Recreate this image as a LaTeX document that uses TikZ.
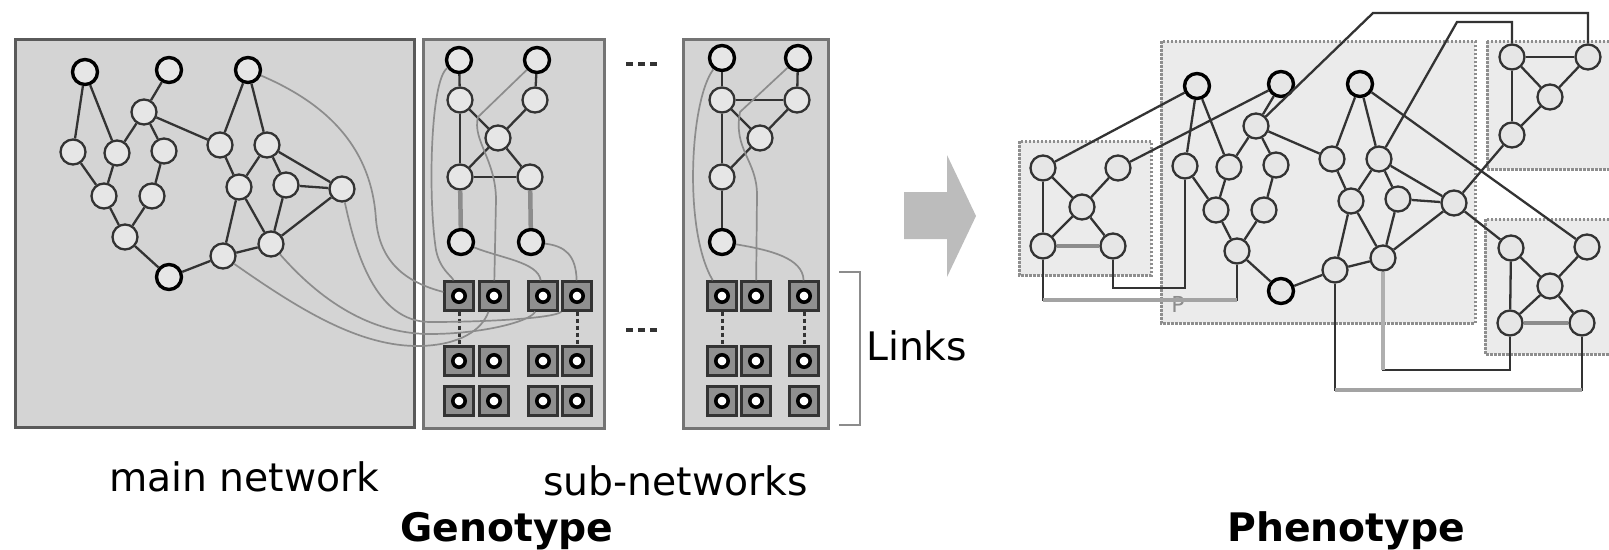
\documentclass[tikz,border=0pt]{standalone}
\usepackage{fontspec}
\setmainfont{DejaVu Sans}
\definecolor{boxg}{HTML}{D4D4D4}
\definecolor{boxp}{HTML}{EBEBEB}
\definecolor{nodef}{HTML}{E6E6E6}
\definecolor{edgec}{HTML}{333333}
\definecolor{linkc}{HTML}{8C8C8C}
\definecolor{frameg}{HTML}{5A5A5A}
\definecolor{frames}{HTML}{747474}
\definecolor{dashc}{HTML}{8E8E8E}
\definecolor{sqfill}{HTML}{8F8F8F}
\definecolor{arrowc}{HTML}{BCBCBC}
\tikzset{
  nd/.style={circle, draw=edgec, fill=nodef, line width=2.3pt, minimum size=25pt, inner sep=0pt},
  bnd/.style={nd, draw=black, line width=3.4pt},
  ed/.style={draw=edgec, line width=2.3pt},
  thk/.style={draw=linkc, line width=4.5pt},
  lnk/.style={draw=linkc, line width=1.7pt},
  sq/.style={rectangle, draw=edgec, fill=sqfill, line width=2.4pt, minimum size=29pt, inner sep=0pt},
  dsh/.style={draw=edgec, line width=3pt, dash pattern=on 4pt off 3pt},
  gbox/.style={fill=boxg, draw=frames, line width=3pt},
  pbox/.style={fill=boxp, draw=dashc, line width=3pt, dash pattern=on 2.5pt off 1.5pt},
  lbl/.style={inner sep=0pt, font=\fontsize{39.3}{45}\selectfont},
  lblb/.style={inner sep=0pt, font=\fontsize{39.3}{45}\selectfont\bfseries},
  wire/.style={draw=edgec, line width=2.3pt},
  gwire/.style={draw=linkc!80, line width=4pt},
}
% regulatory network: nodes named with a prefix, then its edges
\newcommand\drawnet[1]{%
  \node[bnd] (#1T1) at (85,72) {};
  \node[bnd] (#1T2) at (169,70) {};
  \node[bnd] (#1T3) at (248,70) {};
  \node[nd] (#1A) at (144,112) {};
  \node[nd] (#1B) at (73,152) {};
  \node[nd] (#1C) at (117,153) {};
  \node[nd] (#1D) at (164,151) {};
  \node[nd] (#1E) at (104,196) {};
  \node[nd] (#1F) at (152,196) {};
  \node[nd] (#1G) at (125,237) {};
  \node[bnd] (#1H) at (169,277) {};
  \node[nd] (#1I) at (220,145) {};
  \node[nd] (#1J) at (267,145) {};
  \node[nd] (#1K) at (239,187) {};
  \node[nd] (#1L) at (286,185) {};
  \node[nd] (#1M) at (342,189) {};
  \node[nd] (#1N) at (271,244) {};
  \node[nd] (#1O) at (223,256) {};
  \foreach \a/\b in {T1/B,T1/C,T2/A,A/C,A/D,A/I,B/E,C/E,D/F,E/G,F/G,G/H,H/O,O/N,O/K,T3/I,T3/J,I/K,J/K,J/L,J/M,K/N,L/M,L/N,M/N}
    \draw[ed] (#1\a) -- (#1\b);
}
% link gene: square with a ring inside
\newcommand\lsq[3]{%
  \node[sq] (#1) at (#2,#3) {};
  \fill[white] (#1) circle (6pt);
  \draw[black, line width=3.6pt] (#1) circle (6.2pt);
}
\begin{document}
\begin{tikzpicture}[x=1pt,y=-1pt]
\useasboundingbox (0,0) rectangle (1609,549);
\clip (0,0) rectangle (1609,549);

% ---------------- genotype ----------------
\draw[gbox, draw=frameg] (15,39) rectangle (414,427);
\draw[gbox] (423,39) rectangle (604,428);
\draw[gbox] (683,39) rectangle (828,428);

\drawnet{g}

% first sub-network
\node[bnd] (gP1) at (459,60) {};
\node[bnd] (gP2) at (537,60) {};
\node[nd] (gQ1) at (460,100) {};
\node[nd] (gQ2) at (535,100) {};
\node[nd] (gR) at (498,138) {};
\node[nd] (gS1) at (460,177) {};
\node[nd] (gS2) at (530,177) {};
\node[bnd] (gU1) at (461,242) {};
\node[bnd] (gU2) at (531,242) {};
\foreach \a/\b in {P1/Q1,P2/Q2,Q1/S1,Q1/R,Q2/R,R/S1,R/S2,S1/S2}
  \draw[ed] (g\a) -- (g\b);
\draw[thk] (gS1) -- (gU1);
\draw[thk] (gS2) -- (gU2);

\lsq{sq1a}{459}{296} \lsq{sq1b}{494}{296} \lsq{sq1c}{543}{296} \lsq{sq1d}{577}{296}
\lsq{sq1a2}{459}{361} \lsq{sq1b2}{494}{361} \lsq{sq1c2}{543}{361} \lsq{sq1d2}{577}{361}
\lsq{sq1a3}{459}{401} \lsq{sq1b3}{494}{401} \lsq{sq1c3}{543}{401} \lsq{sq1d3}{577}{401}
\draw[dsh] (sq1a) -- (sq1a2);
\draw[dsh] (sq1d) -- (sq1d2);

% second sub-network
\node[bnd] (gV1) at (722,58) {};
\node[bnd] (gV2) at (798,58) {};
\node[nd] (gW1) at (722,100) {};
\node[nd] (gW2) at (797,100) {};
\node[nd] (gX) at (760,138) {};
\node[nd] (gY) at (722,177) {};
\node[bnd] (gZ) at (722,242) {};
\foreach \a/\b in {V1/W1,V2/W2,W1/W2,W1/X,W2/X,W1/Y,X/Y,Y/Z}
  \draw[ed] (g\a) -- (g\b);

\lsq{sq2a}{722}{296} \lsq{sq2b}{756}{296} \lsq{sq2c}{804}{296}
\lsq{sq2a2}{722}{361} \lsq{sq2b2}{756}{361} \lsq{sq2c2}{804}{361}
\lsq{sq2a3}{722}{401} \lsq{sq2b3}{756}{401} \lsq{sq2c3}{804}{401}
\draw[dsh] (sq2a) -- (sq2a2);
\draw[dsh] (sq2c) -- (sq2c2);

% links from the networks to the link genes
\draw[lnk] (gT3) .. controls (330,105) and (372,150) .. (376,220) .. controls (380,262) and (405,282) .. (sq1a);
\draw[lnk] (gM) .. controls (355,250) and (375,322) .. (430,322) .. controls (490,322) and (555,318) .. (sq1d);
\draw[lnk] (gN) .. controls (320,300) and (370,334) .. (430,334) .. controls (480,334) and (530,322) .. (sq1c);
\draw[lnk] (gO) .. controls (300,310) and (360,347) .. (420,346) .. controls (460,345) and (482,330) .. (sq1b);
\draw[lnk] (gP1) .. controls (430,80) and (428,200) .. (436,250) .. controls (440,270) and (452,276) .. (sq1a);
\draw[lnk] (gP2) -- (478,117) .. controls (472,140) and (496,160) .. (496,200) -- (sq1b);
\draw[lnk] (gU1) .. controls (500,258) and (538,262) .. (sq1c);
\draw[lnk] (gU2) .. controls (565,246) and (576,255) .. (sq1d);
\draw[lnk] (gV1) .. controls (690,100) and (683,230) .. (sq2a);
\draw[lnk] (gV2) -- (740,112) .. controls (733,150) and (757,160) .. (757,195) -- (sq2b);
\draw[lnk] (gZ) .. controls (770,250) and (803,258) .. (sq2c);

% ellipses between sub-networks
\draw[edgec, line width=4pt, dash pattern=on 7pt off 5pt] (626,64) -- (658,64);
\draw[edgec, line width=4pt, dash pattern=on 7pt off 5pt] (626,330) -- (658,330);

% bracket for the link genes
\draw[linkc, line width=2.6pt] (839,272) -- (860,272) -- (860,425) -- (839,425);
\node[lbl, anchor=base west] (tlinks) at (866,360) {Links};

% labels
\node[lbl, anchor=base west] (tmain) at (109,491) {main network};
\node[lbl, anchor=base west] (tsub) at (543,495) {sub-networks};
\node[lblb, anchor=base] (tgen) at (507,541) {Genotype};

% development arrow
\fill[arrowc] (904,192) -- (947,192) -- (947,155) -- (976,216) -- (947,277) -- (947,239) -- (904,239) -- cycle;

% ---------------- phenotype ----------------
\draw[pbox] (1019,141) rectangle (1151,275);
\draw[pbox] (1161,41) rectangle (1475,323);
\draw[pbox] (1487,41) rectangle (1640,169);
\draw[pbox] (1485,219) rectangle (1640,354);
\node[text=linkc, inner sep=0pt, font=\fontsize{22}{22}\selectfont] (plab) at (1178,304) {P};

\begin{scope}[shift={(1112,14)}]
\drawnet{p}
\end{scope}

% copies of the sub-networks
\node[nd] (a1) at (1043,168) {};
\node[nd] (a2) at (1118,168) {};
\node[nd] (a3) at (1082,207) {};
\node[nd] (a4) at (1043,246) {};
\node[nd] (a5) at (1113,246) {};
\foreach \a/\b in {a1/a3,a2/a3,a3/a4,a3/a5,a1/a4}
  \draw[ed] (\a) -- (\b);
\draw[draw=linkc, line width=3.5pt] (a4) -- (a5);

\node[nd] (r1) at (1512,57) {};
\node[nd] (r2) at (1588,57) {};
\node[nd] (r3) at (1550,97) {};
\node[nd] (r4) at (1512,135) {};
\foreach \a/\b in {r1/r2,r1/r3,r2/r3,r3/r4,r1/r4}
  \draw[ed] (\a) -- (\b);

\node[nd] (b1) at (1511,248) {};
\node[nd] (b2) at (1587,247) {};
\node[nd] (b3) at (1550,286) {};
\node[nd] (b4) at (1510,323) {};
\node[nd] (b5) at (1582,323) {};
\foreach \a/\b in {b1/b3,b2/b3,b3/b4,b3/b5,b1/b4}
  \draw[ed] (\a) -- (\b);
\draw[draw=linkc, line width=3.5pt] (b4) -- (b5);

% expressed links
\draw[wire] (pT1) -- (a1);
\draw[wire] (pT2) -- (a2);
\draw[wire] (pA) -- (1373,13) -- (1588,13) -- (r2);
\draw[wire] (pJ) -- (1457,22) -- (1512,22) -- (r1);
\draw[wire] (pT3) -- (b2);
\draw[wire] (pM) -- (r4);
\draw[wire] (pM) -- (b1);
\draw[wire] (a5) |- (1184,288) -| (pB);
\draw[wire] (a4) |- (1237,300) -| (pG);
\draw[gwire] (1043,300) -- (1237,300);
\draw[wire] (b4) |- (1383,370) -| (pN);
\draw[draw=linkc!70, line width=4.5pt] (pN) -- (1383,370);
\draw[wire] (b5) |- (1335,390) -| (pO);
\draw[gwire] (1335,390) -- (1582,390);

\node[lblb, anchor=base] (tphen) at (1346,541) {Phenotype};
\end{tikzpicture}
\end{document}
